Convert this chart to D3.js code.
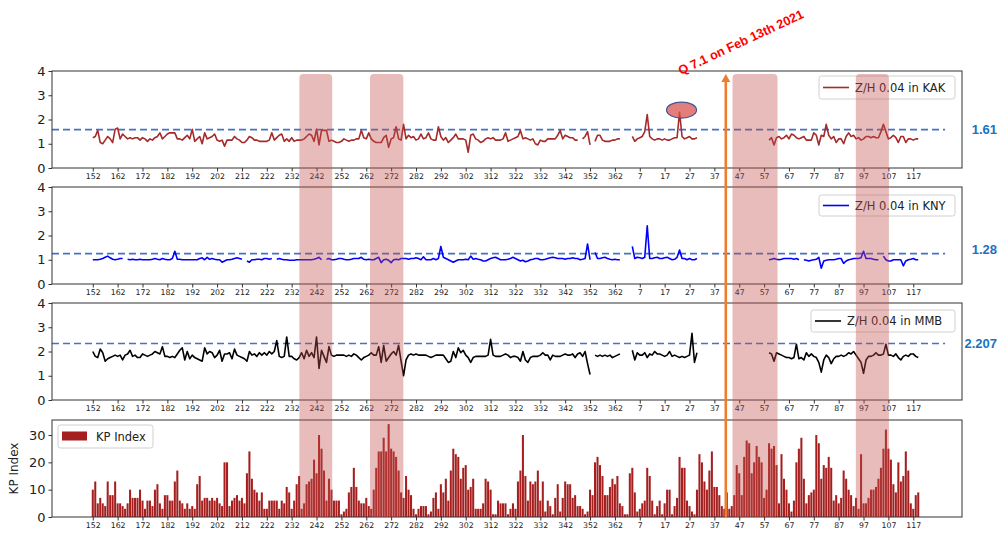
<!DOCTYPE html>
<html><head><meta charset="utf-8">
<script src="https://cdn.jsdelivr.net/npm/d3@7"></script>
<style>body{margin:0;background:#fff} svg{display:block}</style>
</head><body><svg id="c" width="998" height="536"></svg>
<script>
// ---------------- DATA ----------------
const N = 333; // day positions: 152..365 (2020) then 1..120 (2021)
const tickIdx = [0,10,20,30,40,50,60,70,80,90,100,110,120,130,140,150,160,170,180,190,200,210,220,230,240,250,260,270,280,290,300,310,320,330];
const tickLabels = ["152","162","172","182","192","202","212","222","232","242","252","262","272","282","292","302","312","322","332","342","352","362","7","17","27","37","47","57","67","77","87","97","107","117"];

const seriesNames = ["Z/H 0.04 in KAK","Z/H 0.04 in KNY","Z/H 0.04 in MMB"];
const seriesColors = ["#a52a2a","#0000ff","#000000"];
const thresholds = [1.58, 1.25, 2.33];
const thresholdLabels = ["1.61","1.28","2.207"];

// segments: [startPosition, values]
const kakSegments = [
 [0,[1.25,1.3,1.55,1.05,1.0,1.15,1.3,1.2,1.05,1.6,
     1.65,1.2,1.4,1.3,1.2,1.25,1.2,1.25,1.25,1.15,
     1.25,1.2,1.1,1.2,1.15,1.25,1.3,1.45,1.2,1.3,
     1.4,1.45,1.45,1.45,1.2,1.2,1.15,1.25,1.35,1.2,
     1.6,1.1,1.2,1.3,1.0,1.45,1.2,1.25,1.3,1.4,
     1.15,1.1,1.15,0.9,1.15,1.15,1.15,1.3,1.2,1.15,
     1.05,1.05,1.15,1.3,1.25,1.15,1.15,1.1,1.1,1.1,
     1.1,1.15,1.45,1.15,1.25,1.35,1.4,1.1,1.2,1.1,
     1.25,1.1,1.15,1.15,1.15,1.2,1.3,1.4,1.35,1.1,
     1.6,0.95,1.55,1.55,1.55,1.1,1.15,1.1,1.05,1.05,
     1.1,1.2,1.15,1.1,1.15,1.15,1.2,1.2,1.55,1.25,
     1.2,1.45,1.2,1.1,1.05,1.05,1.05,1.25,1.35,0.85,
     1.2,1.25,1.7,1.2,1.15,1.8,1.2,1.35,1.25,1.3,
     1.15,1.2,1.4,1.2,1.25,1.45,1.2,1.15,1.15,1.7,
     1.3,1.15,1.25,1.05,1.15,1.25,1.4,1.2,1.2,1.2,
     1.15,0.65,1.35,1.4,1.2,1.15,1.05,1.1,1.2,1.25,
     1.2,1.25,1.15,1.15,1.15,
     1.2,1.45,1.1,1.15,1.2,1.25,1.3,1.55,1.2,1.25,
     1.2,1.15,1.2,1.0,0.95,1.15,1.1,1.1,1.2,1.2,
     1.2,1.2,1.35,1.55,1.2,1.35,1.3,1.25,1.25,1.15,
     1.15]],
 [197,[1.2,1.3,1.5,0.95]],
 [202,[1.1,1.35,1.35,1.15,1.1,1.1,1.1,1.15,1.15,1.2,1.2]],
 [217,[1.3,1.1,1.2,1.25,1.3,1.5,2.2,1.3,1.2,1.15,1.2,1.2,1.15,1.2,1.15,1.15,1.2,1.25,1.25,2.3,1.3,1.2,1.25,1.3,1.2,1.2,1.25]],
 [272,[1.15,1.25,0.95,1.25,1.3,1.2,1.25,1.35,1.2,1.4,
       1.35,1.25,1.2,1.25,1.3,1.15,1.15,1.15,1.45,1.35,
       0.95,1.35,1.3,1.8,1.35,1.2,1.3,1.05,1.2,1.2,
       1.0,1.3,1.45,1.3,1.35,1.2,1.25,1.15,1.2,1.3,
       1.3,1.25,1.3,1.25,1.25,1.5,1.8,1.5,1.2,1.25,
       1.35,1.25,1.05,1.3,1.3,1.05,1.2,1.2,1.15,1.2,
       1.2]]
];

const knySegments = [
 [0,[1.0,1.0,1.0,1.02,1.05,1.1,1.15,1.08,1.02,1.0,1.02,1.05,1.05]],
 [14,[1.02,1.0,1.02,1.0,1.0,1.02,1.0,1.0,1.0,1.0,
      1.02,1.05,1.02,1.0,1.05,1.02,1.0,1.0,1.05,1.35,
      1.02,1.02,1.0,1.0,1.0,1.0,1.0,1.0,1.0,1.05,
      1.08,1.0,1.1,1.02,1.05,1.02,1.0,1.0,0.9,0.95,
      1.0,1.0,1.02,1.05,1.08,1.05,1.02]],
 [62,[0.95,0.9,1.0,1.0,1.02,1.02,1.0,1.05,1.05,1.02,1.05]],
 [74,[1.02,1.05,1.02,1.0,1.0,0.98,0.98,0.98,1.0,1.0,1.0,1.0,1.0,1.0,1.0,1.02,1.05,1.1,1.0]],
 [94,[1.02,1.05,1.0,1.0,1.02,1.05,1.05,1.02,1.0,1.0,
      1.02,1.05,1.05,1.05,1.1,1.02,1.0,1.02,1.0,1.0,
      1.05,1.1,0.88,1.0,1.02,0.98,0.88,1.0,1.02,1.0,
      1.05,1.05,1.05,1.02,1.05,1.05,1.08,1.05,1.0,1.12,
      1.0,1.0,1.0,1.05,1.0,1.05,1.55,1.1,
      1.05,1.0,0.95,0.9,0.95,1.0,1.0,1.0,1.02,1.0,1.15,1.02,1.05,1.02,1.0,0.95,0.95,1.0,1.05,1.08,1.1,1.05,1.0,1.0,
      1.0,1.02,1.05,1.1,1.05,1.0,0.95,0.98,0.92,0.95,
      1.0,1.02,1.05,1.05,1.0,1.0,1.02,1.05,1.08,1.1,
      1.08,1.05,1.05,1.05,1.02,1.05,1.05,1.08,1.05,1.05,
      1.0,1.02,1.05,1.65,1.0]],
 [202,[1.3,1.05,1.05,1.08,1.1,1.05,1.02,1.0,1.02,1.0,1.0]],
 [217,[1.55,1.05,1.1,1.08,1.05,1.1,2.4,1.05,1.05,1.08,1.1,1.05,1.05,1.08,1.1,1.05,1.0,1.02,1.1,1.4,1.05,1.05,1.0,1.05,1.0,1.0,1.05]],
 [272,[1.0,1.02,1.05,1.02,1.0,1.02,1.05,1.05,1.05,1.05,1.02,1.05,1.0]],
 [286,[1.0,0.98,0.95,0.98,1.0,1.02,1.1,0.65,0.95,0.98,1.0,1.0,1.0,1.02,1.05,1.05,0.85,0.95,1.0,1.02,1.05,1.05,1.05,1.08,1.35,1.05,1.05,1.05,1.02,1.0,1.0]],
 [318,[1.15,1.0,0.95,0.95,1.0,1.0,1.0,1.0,0.75,0.95,1.0,1.02,1.05,1.0,1.0]]
];

const mmbSegments = [
 [0,[2.0,1.8,1.75,2.1,1.95,1.6,1.7,1.75,1.8,1.85,
     1.8,1.85,1.65,1.85,1.9,2.05,1.8,1.85,1.75,1.75,
     1.9,1.85,1.8,1.85,1.9,2.0,1.95,1.9,2.2,1.8,
     1.8,1.75,1.8,1.75,1.9,2.05,2.15,1.65,2.0,1.7,
     1.85,1.75,1.7,1.65,1.6,2.15,1.9,2.0,1.95,1.75,
     1.85,2.05,1.6,1.9,1.9,1.95,1.7,2.1,1.85,1.8,
     1.75,1.7,1.6,2.0,1.85,1.9,1.8,1.95,1.85,1.95,
     1.85,2.0,1.9,2.0,2.45,1.8,1.75,1.8,2.6,1.8,
     1.8,1.7,1.65,1.75,1.95,1.7,2.05,1.8,1.95,1.75,
     2.6,1.3,2.05,1.8,1.55,2.2,1.85,1.8,1.85,1.85,
     1.85,1.85,1.8,1.85,1.8,1.9,1.85,1.75,1.65,1.75,
     1.8,1.85,1.95,1.85,1.85,2.2,1.55,2.25,1.6,1.75,
     1.9,2.0,1.85,2.25,1.6,1.0,1.65,1.85,1.9,1.85,
     1.9,1.85,1.85,1.85,1.85,1.8,1.75,1.8,1.85,1.85,
     1.85,1.85,1.7,1.55,1.6,2.0,1.75,2.15,1.95,2.05,
     1.85,1.75,1.55,1.75,1.8,1.8,1.8,1.8,1.8,1.85,
     2.5,1.85,1.8,1.8,1.8,
     1.85,1.9,1.85,1.75,1.8,1.8,1.75,1.6,2.0,1.65,
     1.55,1.75,1.8,1.8,1.8,1.85,1.95,1.85,1.85,1.65,
     1.85,1.8,1.8,1.8,1.85,1.9,1.85,1.85,1.9,1.75,
     1.9,1.95,1.8,2.0,1.5,1.05]],
 [202,[1.85,1.8,1.85,1.8,1.85,1.8,1.85,1.75,1.8,1.85,1.9]],
 [217,[2.05,1.65,1.95,1.85,1.85,1.95,1.75,1.9,1.85,2.0,1.9,1.9,1.85,1.8,1.85,2.0,1.8,1.85,1.8,1.75,1.8,1.75,1.8,1.85,2.75,1.55,1.95]],
 [272,[1.95,1.9,1.6,1.95,1.9,1.85,1.8,1.75,1.75,1.7,
       1.75,2.3,1.7,1.75,1.65,1.95,1.8,1.9,1.8,1.75,
       1.55,1.15,1.65,1.85,1.75,1.5,1.7,1.8,1.8,1.85,
       1.8,1.85,1.95,1.9,2.0,1.85,1.7,1.55,1.1,1.65,
       1.8,1.8,1.85,1.95,1.85,1.85,1.9,2.3,1.85,1.85,
       1.8,1.9,1.75,1.65,1.8,1.85,1.8,1.9,1.9,1.8,
       1.75]]
];

const kpIndex = [
 10,13,5,7,5,4,13,8,8,13,
 5,5,4,3,5,10,7,7,7,10,
 6,3,6,6,4,10,12,5,3,8,
 8,6,6,13,17,6,5,3,5,3,
 4,3,12,15,6,7,7,6,7,6,
 7,5,4,20,20,4,6,7,8,6,
 7,5,16,24,14,10,9,6,9,3,
 3,6,6,6,6,3,6,5,11,9,
 3,6,12,15,3,5,12,13,14,21,
 16,30,25,17,6,14,10,6,6,6,
 1,2,3,9,11,18,11,6,5,5,
 7,4,3,10,18,24,24,29,24,34,
 25,24,22,17,9,7,15,10,8,3,
 1,3,4,4,4,1,2,7,9,3,
 12,9,14,6,17,25,23,22,14,18,
 19,10,11,14,3,3,3,5,14,13,
 10,1,1,6,5,5,5,1,3,5,
 3,13,17,30,15,6,13,12,13,17,
 6,13,2,6,4,1,7,12,2,7,
 13,12,12,7,8,4,4,3,1,2,
 10,8,20,22,19,15,8,8,11,14,
 12,15,5,4,1,1,16,18,9,2,
 3,5,6,18,15,6,1,4,6,1,
 5,10,10,1,4,7,22,18,18,6,
 4,2,1,10,23,20,13,10,17,24,
 11,11,8,4,3,9,3,4,8,19,
 16,8,22,28,27,16,20,26,22,20,
 7,10,27,25,26,19,5,23,14,10,
 5,2,6,20,25,29,14,5,8,9,
 10,30,27,14,19,18,22,18,6,8,
 5,7,17,14,10,8,4,7,3,23,
 5,5,7,10,10,11,14,18,25,32,
 25,21,12,9,20,13,15,24,17,5,
 3,8,9
];

const shadeStart = [83.1, 111.5, 257.3, 306.9];
const shadeEnd   = [96.3, 124.9, 275.4, 320.2];
const quakePos = 254.6;
const quakeText = "Q 7.1 on Feb 13th 2021";
const markPos = 236.8, markValue = 2.39;

// ---------------- CHART ----------------
function build(segs){ const a = new Array(N).fill(null); segs.forEach(([s,vals])=>vals.forEach((v,j)=>{a[s+j]=v;})); return a; }
const series = [build(kakSegments), build(knySegments), build(mmbSegments)];

const W=998, H=536, L=52, R=962;
const panels = [{top:71,bottom:168},{top:187,bottom:284},{top:303,bottom:400},{top:420,bottom:517}];
const svg = d3.select("#c");
svg.append("rect").attr("width",W).attr("height",H).attr("fill","#fff");

const x = d3.scaleLinear().domain([-16.4,349.6]).range([L,R]);
const FONT = "DejaVu Sans, sans-serif";
const axisColor = "#333";

function styleAxis(g, fs){
  g.selectAll("text").attr("font-family",FONT).attr("font-size",fs).attr("fill","#222");
  g.selectAll("line").attr("stroke",axisColor);
  g.select(".domain").remove();
}
function bottomAxis(p){
  const g = svg.append("g").attr("transform",`translate(0,${p.bottom})`)
    .call(d3.axisBottom(x).tickValues(tickIdx).tickFormat((d,i)=>tickLabels[i]).tickSize(3.5).tickPadding(2));
  styleAxis(g, 7.8);
}
function frame(p){
  svg.append("rect").attr("x",L).attr("y",p.top).attr("width",R-L).attr("height",p.bottom-p.top)
    .attr("fill","none").attr("stroke",axisColor).attr("stroke-width",1);
}
function legendBox(x0,y0,w,h){
  svg.append("rect").attr("x",x0).attr("y",y0).attr("width",w).attr("height",h).attr("rx",2.5)
    .attr("fill","#fff").attr("fill-opacity",0.85).attr("stroke","#d0d0d0").attr("stroke-width",1);
}

const legendPos = [{x:819,y:76,w:136,h:23},{x:819,y:195,w:136,h:21},{x:811,y:310,w:144,h:22}];
const labelDy = [0,-4,0];

series.forEach((data,k)=>{
  const p = panels[k];
  const y = d3.scaleLinear().domain([0,4]).range([p.bottom,p.top]);
  svg.append("line").attr("x1",L).attr("x2",x(342.8)).attr("y1",y(thresholds[k])).attr("y2",y(thresholds[k]))
    .attr("stroke","#4472c4").attr("stroke-width",1.7).attr("stroke-dasharray","7,4");
  svg.append("path").datum(data)
    .attr("d", d3.line().defined(d=>d!=null).x((d,i)=>x(i)).y(d=>y(d)))
    .attr("fill","none").attr("stroke",seriesColors[k]).attr("stroke-width",1.6).attr("stroke-linejoin","round");
  const ay = svg.append("g").attr("transform",`translate(${L},0)`)
    .call(d3.axisLeft(y).tickValues([0,1,2,3,4]).tickFormat(d3.format("d")).tickSize(3.5).tickPadding(3));
  styleAxis(ay, 13);
  bottomAxis(p);
  frame(p);
  const lp = legendPos[k];
  legendBox(lp.x,lp.y,lp.w,lp.h);
  const ly = lp.y + lp.h/2;
  svg.append("line").attr("x1",lp.x+4).attr("x2",lp.x+30).attr("y1",ly).attr("y2",ly)
    .attr("stroke",seriesColors[k]).attr("stroke-width",1.6);
  svg.append("text").attr("x",lp.x+36).attr("y",ly).attr("dy","0.36em")
    .attr("font-family",FONT).attr("font-size",11.5).attr("fill","#222").text(seriesNames[k]);
  svg.append("text").attr("x",997).attr("y",y(thresholds[k])+labelDy[k]).attr("dy","0.36em")
    .attr("text-anchor","end").attr("font-family","Liberation Sans, Arial, sans-serif")
    .attr("font-weight","bold").attr("font-size",13).attr("fill","#1a72c2").text(thresholdLabels[k]);
});

// KP panel
{
  const p = panels[3];
  const y = d3.scaleLinear().domain([0,35.5]).range([p.bottom,p.top]);
  const bw = (x(1)-x(0))*0.82;
  svg.append("g").selectAll("rect").data(kpIndex).join("rect")
    .attr("x",(d,i)=>x(i)-bw/2).attr("width",bw)
    .attr("y",d=>y(d)).attr("height",d=>y(0)-y(d)).attr("fill","#a51f1f");
  const ay = svg.append("g").attr("transform",`translate(${L},0)`)
    .call(d3.axisLeft(y).tickValues([0,10,20,30]).tickSize(3.5).tickPadding(3));
  styleAxis(ay, 13);
  bottomAxis(p);
  frame(p);
  legendBox(58,425,95,23);
  svg.append("rect").attr("x",62).attr("y",431.5).attr("width",25).attr("height",9).attr("fill","#a51f1f");
  svg.append("text").attr("x",96).attr("y",436.5).attr("dy","0.36em").attr("font-family",FONT)
    .attr("font-size",11.5).attr("fill","#222").text("KP Index");
  svg.append("text").attr("transform",`translate(18,${(p.top+p.bottom)/2}) rotate(-90)`)
    .attr("text-anchor","middle").attr("font-family",FONT).attr("font-size",12).attr("fill","#222").text("KP Index");
}

// highlight bands (on top)
shadeStart.forEach((s,i)=>{
  svg.append("rect").attr("x",x(s)).attr("width",x(shadeEnd[i])-x(s))
    .attr("y",74).attr("height",517-74).attr("rx",4)
    .attr("fill","#c0504d").attr("fill-opacity",0.38);
});

// marker ellipse on KAK peak
{
  const y = d3.scaleLinear().domain([0,4]).range([panels[0].bottom,panels[0].top]);
  svg.append("ellipse").attr("cx",x(markPos)).attr("cy",y(markValue)).attr("rx",15).attr("ry",8)
    .attr("fill","#d9534f").attr("fill-opacity",0.75).attr("stroke","#41579a").attr("stroke-width",1.2);
}

// earthquake arrow
{
  const xq = x(quakePos);
  svg.append("line").attr("x1",xq).attr("x2",xq).attr("y1",517).attr("y2",80)
    .attr("stroke","#ed7d31").attr("stroke-width",2.6);
  svg.append("path").attr("d",`M${xq},74 L${xq-4.5},82 L${xq+4.5},82 Z`).attr("fill","#ed7d31");
  svg.append("text").attr("transform",`translate(${xq-45},75) rotate(-25)`)
    .attr("font-family","Liberation Sans, Arial, sans-serif").attr("font-weight","bold")
    .attr("font-size",12.6).attr("fill","#ff0000").text(quakeText);
}
</script></body></html>
